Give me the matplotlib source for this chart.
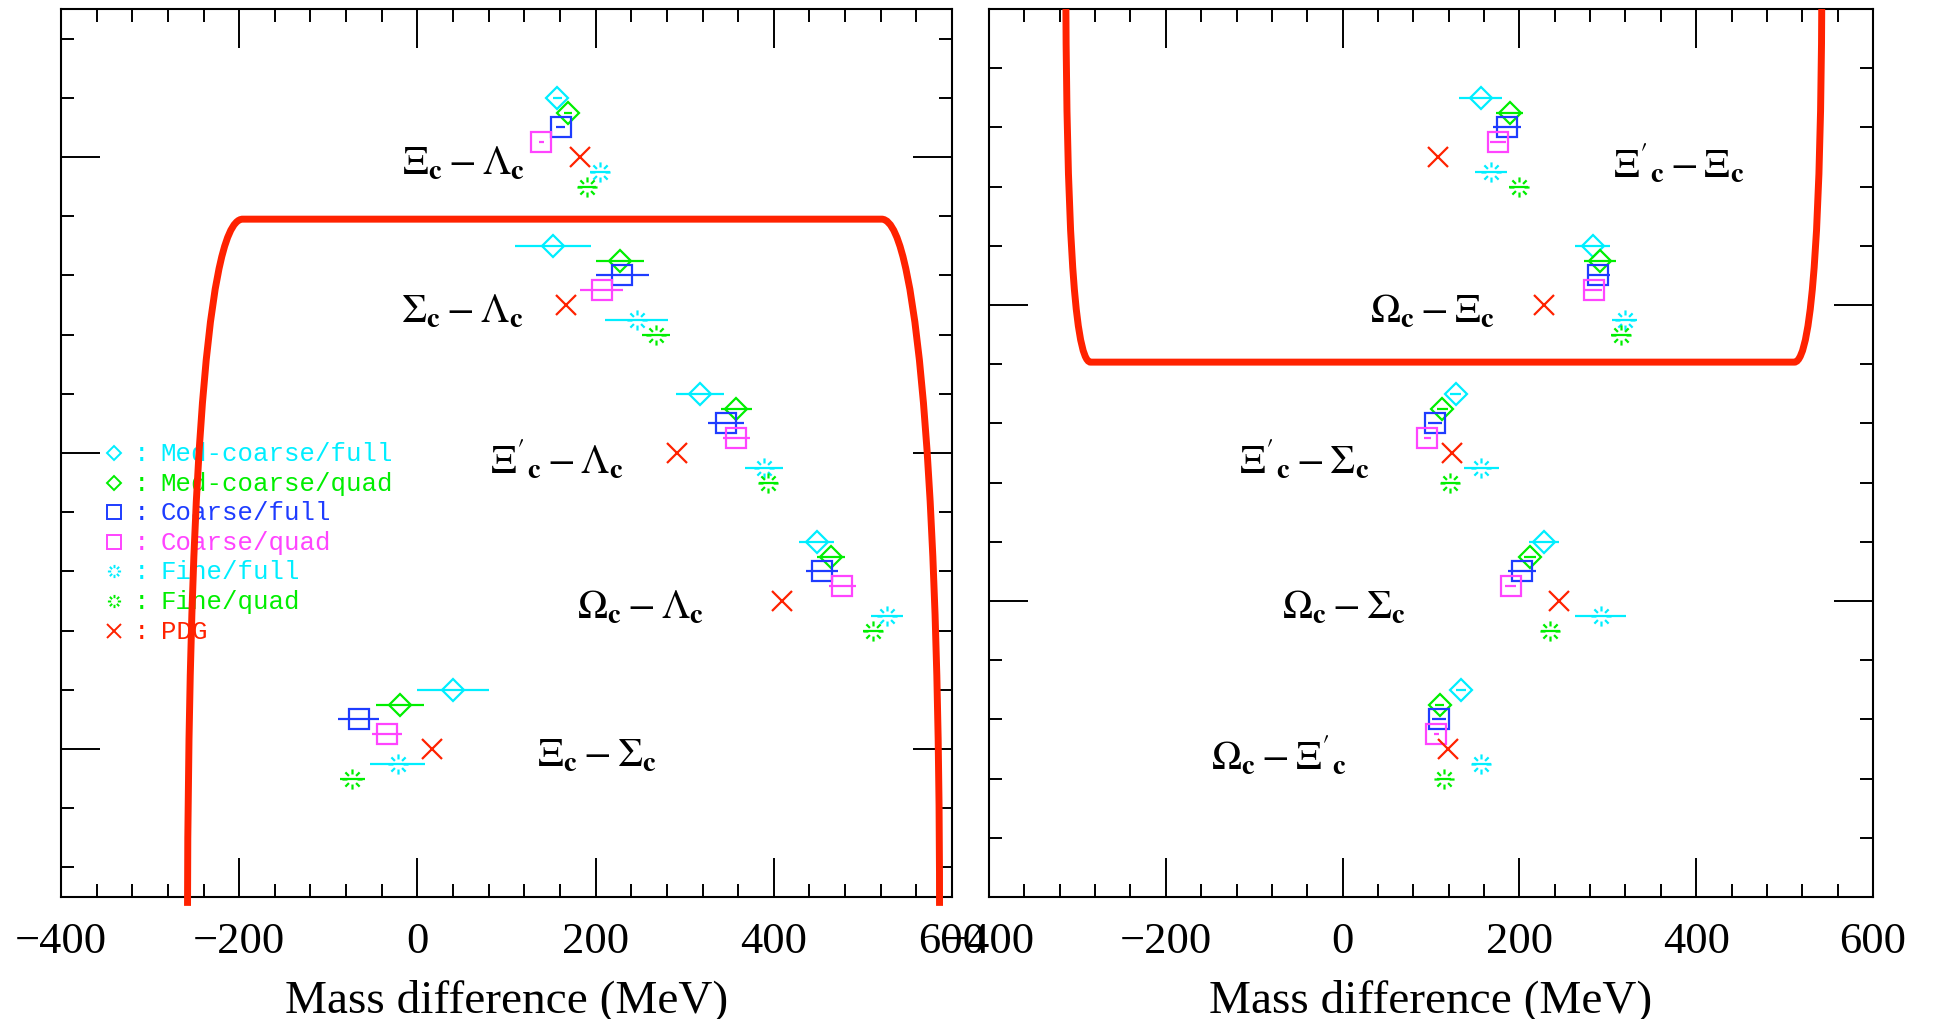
import numpy as np
import matplotlib.pyplot as plt
from matplotlib.path import Path
from matplotlib.patches import PathPatch

plt.rcParams['mathtext.fontset'] = 'stix'
plt.rcParams['font.family'] = ['Liberation Serif', 'DejaVu Serif']

# ---- data: left panel (mass differences to Lambda_c / Sigma_c) ----
left_names = [r'$\Xi_{\mathbf{c}}-\Lambda_{\mathbf{c}}$', r'$\Sigma_{\mathbf{c}}-\Lambda_{\mathbf{c}}$',
              r'$\Xi^{\prime}{}_{\mathbf{c}}-\Lambda_{\mathbf{c}}$',
              r'$\Omega_{\mathbf{c}}-\Lambda_{\mathbf{c}}$', r'$\Xi_{\mathbf{c}}-\Sigma_{\mathbf{c}}$']
left_rows = [3.0, 2.5, 2.0, 1.5, 1.0]
left_name_x = [52, 50, 156, 250, 202]

L_mcf = [157, 152, 317, 448, 40]
L_mcf_err = [5, 43, 27, 20, 40]
L_mcq = [169, 227, 358, 464, -20]
L_mcq_err = [5, 27, 17, 16, 27]
L_cf = [161, 230, 346, 454, -66]
L_cf_err = [5, 30, 20, 18, 23]
L_cq = [139, 207, 358, 477, -34]
L_cq_err = [3, 24, 15, 15, 17]
L_ff = [205, 246, 389, 527, -22]
L_ff_err = [11, 35, 21, 18, 31]
L_fq = [190, 268, 394, 511, -73]
L_fq_err = [10, 16, 11, 11, 14]
L_pdg = [183, 167, 291, 409, 16]

# ---- data: right panel ----
right_names = [r'$\Xi^{\prime}{}_{\mathbf{c}}-\Xi_{\mathbf{c}}$', r'$\Omega_{\mathbf{c}}-\Xi_{\mathbf{c}}$',
               r'$\Xi^{\prime}{}_{\mathbf{c}}-\Sigma_{\mathbf{c}}$',
               r'$\Omega_{\mathbf{c}}-\Sigma_{\mathbf{c}}$', r'$\Omega_{\mathbf{c}}-\Xi^{\prime}{}_{\mathbf{c}}$']
right_rows = [2.5, 2.0, 1.5, 1.0, 0.5]
right_name_x = [380, 102, -43, 1, -72]

R_mcf = [156, 283, 128, 228, 134]
R_mcf_err = [24, 20, 6, 17, 6]
R_mcq = [189, 291, 113, 212, 110]
R_mcq_err = [15, 18, 6, 7, 5]
R_cf = [186, 289, 105, 203, 109]
R_cf_err = [16, 13, 8, 16, 8]
R_cq = [176, 284, 96, 190, 106]
R_cq_err = [9, 10, 4, 6, 3]
R_ff = [168, 319, 157, 292, 157]
R_ff_err = [18, 14, 20, 29, 11]
R_fq = [199, 315, 122, 235, 115]
R_fq_err = [11, 11, 11, 11, 8]
R_pdg = [108, 228, 124, 245, 119]

legend_labels = ['Med-coarse/full', 'Med-coarse/quad', 'Coarse/full', 'Coarse/quad',
                 'Fine/full', 'Fine/quad', 'PDG']

# red outlines (bezier control points)
left_box_x = [-258, -257, -240, -196, 521, 565, 586, 586]
left_box_y = [0.47, 1.7, 2.79, 2.79, 2.79, 2.79, 1.7, 0.47]
right_box_x = [-313, -312, -305, -285, 511, 533, 541, 542]
right_box_y = [3.0, 2.37, 1.807, 1.807, 1.807, 1.807, 2.37, 3.0]

CYAN = '#00eeff'
GREEN = '#00ee00'
BLUE = '#1e3cff'
MAGENTA = '#ff44ff'
RED = '#ff2200'

# sunburst marker for the fine lattices
sv, sc = [], []
for ang in np.arange(0, 360, 45):
    a = np.deg2rad(ang)
    sv += [(0.5 * np.cos(a), 0.5 * np.sin(a)), (np.cos(a), np.sin(a))]
    sc += [Path.MOVETO, Path.LINETO]
burst = Path(sv, sc)

# style per series: colour, marker, size, legend size, vertical offset
styles = [
    (CYAN, 'D', 10.7, 7.2, 0.20),
    (GREEN, 'D', 10.7, 7.2, 0.15),
    (BLUE, 's', 15, 10.5, 0.10),
    (MAGENTA, 's', 15, 10.5, 0.05),
    (CYAN, burst, 14.5, 9.5, -0.05),
    (GREEN, burst, 14.5, 9.5, -0.10),
    (RED, 'x', 14, 9.5, 0.0),
]

fig = plt.figure(figsize=(19.34, 10.2), dpi=100)
axL = fig.add_axes([61 / 1934, 122 / 1020, 891 / 1934, 888 / 1020])
axR = fig.add_axes([989 / 1934, 122 / 1020, 884 / 1934, 888 / 1020])


def draw_panel(ax, rows, names, name_x, series, ylim):
    for (vals, errs), (col, mk, ms, _, off) in zip(series, styles):
        y = np.array(rows) + off
        if errs is not None:
            ax.errorbar(vals, y, xerr=errs, fmt='none', ecolor=col, elinewidth=1.6, capsize=0)
        ax.plot(vals, y, ls='none', marker=mk, ms=ms, mec=col, mfc='none', mew=1.6)
    for nm, x, y in zip(names, name_x, rows):
        ax.text(x, y - 0.02, nm, ha='center', va='center', fontsize=29, color='black')

    ax.set_xlim(-400, 600)
    ax.set_ylim(*ylim)
    ax.set_xticks(np.arange(-400, 601, 200))
    ax.set_xticks(np.arange(-400, 601, 40), minor=True)
    ax.set_yticks([v for v in (1, 2, 3) if ylim[0] < v < ylim[1]])
    ax.set_yticks(np.arange(ylim[0] + 0.2, ylim[1] - 0.01, 0.2) if ylim[0] == 0 else
                  np.arange(ylim[0] + 0.1, ylim[1], 0.2), minor=True)
    ax.tick_params(which='both', direction='in', top=True, right=True, width=1.4)
    ax.tick_params(which='major', length=28, pad=17, labelsize=32)
    ax.tick_params(which='minor', length=9.5)
    ax.tick_params(axis='y', labelleft=False)
    for s in ax.spines.values():
        s.set_linewidth(1.5)
    ax.set_xlabel('Mass difference (MeV)', fontsize=34)
    ax.xaxis.set_label_coords(0.5, -0.115)
    ax.xaxis.label.set_va('center')


left_series = [(L_mcf, L_mcf_err), (L_mcq, L_mcq_err), (L_cf, L_cf_err), (L_cq, L_cq_err),
               (L_ff, L_ff_err), (L_fq, L_fq_err), (L_pdg, None)]
right_series = [(R_mcf, R_mcf_err), (R_mcq, R_mcq_err), (R_cf, R_cf_err), (R_cq, R_cq_err),
                (R_ff, R_ff_err), (R_fq, R_fq_err), (R_pdg, None)]

draw_panel(axL, left_rows, left_names, left_name_x, left_series, (0.5, 3.5))
draw_panel(axR, right_rows, right_names, right_name_x, right_series, (0.0, 3.0))

# legend written inside left panel
for i, (lab, (col, mk, _, lms, _)) in enumerate(zip(legend_labels, styles)):
    yy = 2.0 - 0.1 * i
    axL.plot([-340], [yy], ls='none', marker=mk, ms=lms, mec=col, mfc='none', mew=1.4)
    axL.text(-310, yy, ':', color=col, fontsize=18.5, family='Liberation Mono', ha='center', va='center')
    axL.text(-288, yy, lab, color=col, fontsize=18.5, family='Liberation Mono', ha='left', va='center')

codes = [Path.MOVETO, Path.CURVE4, Path.CURVE4, Path.CURVE4,
         Path.LINETO, Path.CURVE4, Path.CURVE4, Path.CURVE4]
pl = PathPatch(Path(list(zip(left_box_x, left_box_y)), codes), fill=False, ec=RED, lw=5,
               capstyle='butt', zorder=10, clip_on=False)
axL.add_patch(pl)
pr = PathPatch(Path(list(zip(right_box_x, right_box_y)), codes), fill=False, ec=RED, lw=5,
               capstyle='butt', zorder=10)
axR.add_patch(pr)

fig.savefig('out.png', dpi=100)
